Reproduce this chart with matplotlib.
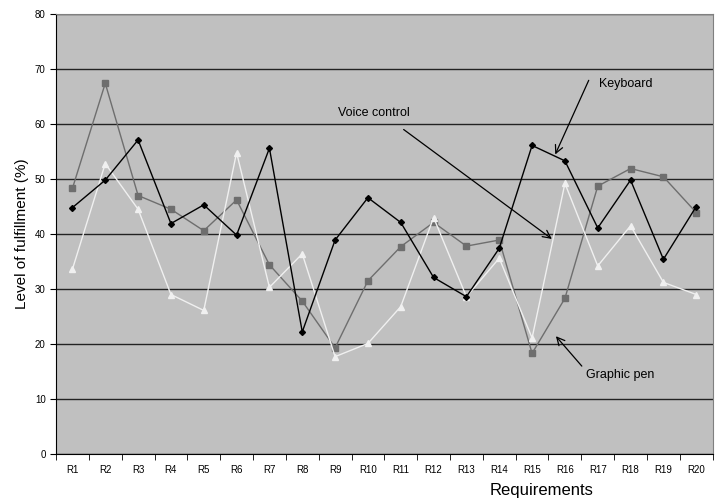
import numpy as np
import matplotlib.pyplot as plt

plt.rcParams['font.family'] = ['Liberation Sans', 'DejaVu Sans']

requirements = ["R1", "R2", "R3", "R4", "R5", "R6", "R7", "R8", "R9", "R10",
                "R11", "R12", "R13", "R14", "R15", "R16", "R17", "R18", "R19", "R20"]

keyboard = [44.8, 49.8, 57.1, 41.9, 45.3, 39.8, 55.6, 22.2, 38.9, 46.6,
            42.1, 32.1, 28.6, 37.4, 56.1, 53.3, 41.1, 49.8, 35.4, 45.0]
graphic_pen = [48.3, 67.4, 47.0, 44.5, 40.6, 46.2, 34.4, 27.8, 19.3, 31.5,
               37.7, 42.1, 37.8, 38.9, 18.3, 28.3, 48.7, 51.9, 50.4, 43.9]
voice_control = [33.6, 52.8, 44.5, 29.0, 26.1, 54.8, 30.3, 36.4, 17.7, 20.1,
                 26.8, 43.0, 28.6, 35.6, 21.1, 49.2, 34.2, 41.5, 31.2, 29.0]

x = np.arange(len(requirements))

fig = plt.figure(figsize=(7.2, 5.0), dpi=100)
ax = fig.add_axes([0.0778, 0.092, 0.912, 0.88])
ax.set_facecolor('#c0c0c0')

ax.plot(x, graphic_pen, '-s', color='#6e6e6e', markersize=4, linewidth=1, zorder=3)
ax.plot(x, voice_control, '-^', color='#f0f0f0', markersize=4, linewidth=1, zorder=3)
ax.plot(x, keyboard, '-D', color='black', markersize=3, linewidth=1, zorder=4)

ax.set_xlim(-0.5, len(requirements) - 0.5)
ax.set_ylim(0, 80)
ax.set_yticks(range(0, 81, 10))
ax.yaxis.grid(True, color='#222222', linewidth=1)
ax.set_axisbelow(True)

ax.set_xticks(x)
ax.set_xticklabels(requirements, fontsize=7)
ax.set_xticks(np.arange(-0.5, len(requirements), 1), minor=True)
ax.tick_params(axis='x', which='major', length=0, pad=8)
ax.tick_params(axis='x', which='minor', length=4, direction='out')
ax.tick_params(axis='y', labelsize=7, length=4, direction='out')

for s in ['top', 'right']:
    ax.spines[s].set_color('#808080')
for s in ['left', 'bottom']:
    ax.spines[s].set_color('black')

ax.set_ylabel('Level of fulfillment (%)', fontsize=11)
ax.set_xlabel('Requirements', fontsize=12)
ax.xaxis.set_label_coords(0.74, -0.065)

arrow = dict(arrowstyle='->', color='black', linewidth=0.9, mutation_scale=14)
ax.annotate('', xy=(14.67, 54.0), xytext=(15.76, 68.4), arrowprops=arrow)
ax.text(16.03, 67.3, 'Keyboard', fontsize=9, va='center', ha='left')
ax.annotate('', xy=(14.67, 38.8), xytext=(10.02, 59.3), arrowprops=arrow)
ax.text(8.08, 62.0, 'Voice control', fontsize=9, va='center', ha='left')
ax.annotate('', xy=(14.67, 21.8), xytext=(15.57, 15.6), arrowprops=arrow)
ax.text(15.63, 14.4, 'Graphic pen', fontsize=9, va='center', ha='left')

fig.savefig('out.png', dpi=100)
